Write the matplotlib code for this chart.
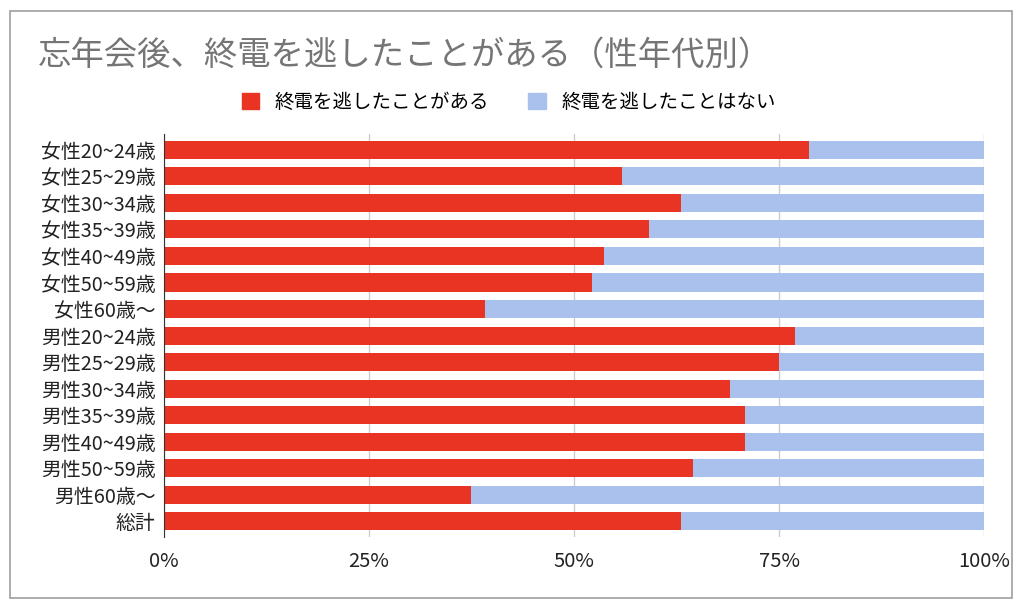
import matplotlib
matplotlib.use("Agg")
import matplotlib.pyplot as plt
from matplotlib.patches import Rectangle, Patch
from matplotlib.ticker import PercentFormatter

plt.rcParams['font.family'] = ['Noto Sans CJK JP', 'DejaVu Sans']

categories = ["女性20~24歳", "女性25~29歳", "女性30~34歳", "女性35~39歳",
              "女性40~49歳", "女性50~59歳", "女性60歳〜",
              "男性20~24歳", "男性25~29歳", "男性30~34歳", "男性35~39歳",
              "男性40~49歳", "男性50~59歳", "男性60歳〜", "総計"]
missed = [0.787, 0.559, 0.630, 0.591, 0.537, 0.522, 0.391,
          0.770, 0.750, 0.690, 0.709, 0.709, 0.645, 0.374, 0.630]
not_missed = [1 - v for v in missed]
series_names = ["終電を逃したことがある", "終電を逃したことはない"]
red = "#e93323"
blue = "#a9c1ec"

fig = plt.figure(figsize=(10.24, 6.09), dpi=100)
ax = fig.add_axes([0.160, 0.118, 0.801, 0.662])

y = list(range(len(categories)))
ax.barh(y, missed, height=0.68, color=red, zorder=2)
ax.barh(y, not_missed, left=missed, height=0.68, color=blue, zorder=2)

ax.set_ylim(len(categories) - 0.5 + 0.1, -0.5 - 0.1)
ax.set_xlim(0, 1)
ax.set_yticks(y)
ax.set_yticklabels(categories, fontsize=14.3, color="#222222")
ax.set_xticks([0, 0.25, 0.5, 0.75, 1.0])
ax.xaxis.set_major_formatter(PercentFormatter(1.0, decimals=0))
ax.tick_params(axis='x', labelsize=14.5, colors="#222222", length=0, pad=10)
ax.tick_params(axis='y', length=0, pad=6)
ax.grid(axis='x', color="#cccccc", linewidth=1, zorder=0)
for s in ["top", "right", "bottom"]:
    ax.spines[s].set_visible(False)
ax.spines["left"].set_color("#333333")
ax.spines["left"].set_zorder(3)

fig.text(38 / 1024, 1 - 55 / 609, "忘年会後、終電を逃したことがある（性年代別）",
         fontsize=24, color="#757575", va="center", ha="left")

handles = [Patch(color=red), Patch(color=blue)]
fig.legend(handles, series_names, loc="center", bbox_to_anchor=(0.497, 1 - 102 / 609),
           ncol=2, frameon=False, fontsize=14, handlelength=0.9, handleheight=0.9,
           columnspacing=2.0, handletextpad=0.8)

fig.patches.append(Rectangle((10 / 1024, 11 / 609), 1002 / 1024, 587 / 609,
                             transform=fig.transFigure, fill=False,
                             edgecolor="#9e9e9e", linewidth=1.2))

fig.savefig("out.png", dpi=100)
